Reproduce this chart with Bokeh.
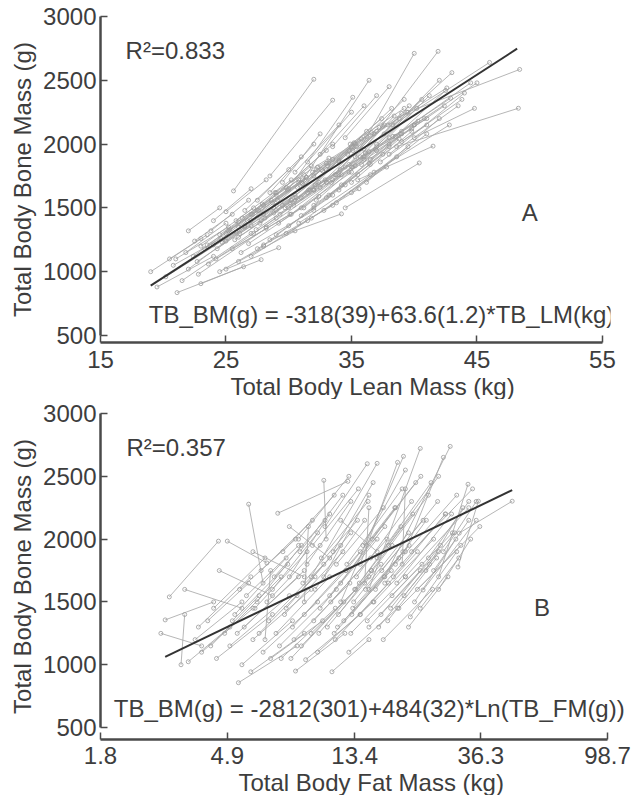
from bokeh.plotting import figure
from bokeh.layouts import column
from bokeh.models import Range1d, FixedTicker, Label, Title, ColumnDataSource
from bokeh.embed import file_html
from bokeh.resources import INLINE
import numpy as np

# ---------------- Panel A: lean mass (kg) vs bone mass (g), paired visits
A_lm1 = [19.0, 19.5, 20.2, 21.1, 20.8, 21.5, 22.0, 22.4, 22.8, 23.0, 23.3, 23.6, 24.0, 24.2, 24.5, 25.0, 25.0, 25.3, 25.6, 25.5,
         25.8, 26.0, 26.2, 26.5, 26.8, 27.0, 27.2, 27.5, 27.8, 28.0, 28.2, 28.5, 28.8, 29.0, 29.2, 29.5, 29.8, 30.0, 30.2, 30.5,
         30.8, 31.0, 31.2, 31.5, 31.8, 32.0, 32.2, 32.5, 32.8, 33.0, 33.2, 33.5, 28.5, 33.8, 34.0, 34.2, 34.5, 34.8, 35.0, 35.3,
         35.5, 35.8, 36.0, 36.2, 36.5, 36.8, 37.0, 37.3, 37.6, 38.0, 38.3, 38.6, 39.0, 39.5, 40.0, 21.8, 22.5, 23.8, 24.5, 26.0,
         27.0, 28.0, 29.0, 30.0, 31.0, 32.0, 33.0, 26.5, 27.5, 28.5, 29.5, 30.5, 31.5, 32.5, 33.5, 34.5, 24.0, 25.0, 22.0, 20.5,
         30.0, 31.0, 32.0, 33.0, 34.0, 35.0, 36.0, 26.0, 27.0, 28.0, 29.0, 25.0, 23.0, 21.0, 37.0, 38.0, 39.0, 40.0, 34.0, 35.0,
         24.3, 25.2, 26.1, 27.1, 28.1, 29.1, 30.1, 31.1, 32.1, 33.1, 34.1, 35.1, 36.1, 25.7, 26.7, 27.7, 28.7, 29.7, 30.7, 31.7,
         32.7, 33.7, 34.7, 35.7, 23.5, 24.7, 27.4, 28.9, 30.4, 31.9, 33.4, 34.9, 36.4, 37.9, 22.7, 26.3, 29.3, 32.3, 35.3, 38.3]
A_bm1 = [1000, 880, 960, 836, 1050, 930, 1020, 1120, 980, 906, 1180, 1060, 1210, 1100, 1290, 1020, 1240, 1330, 1633, 1180,
         1400, 1270, 1150, 1360, 1220, 1450, 1300, 1180, 1400, 1520, 1350, 1250, 1460, 1600, 1380, 1520, 1300, 1650, 1450, 1560,
         1380, 1700, 1500, 1620, 1420, 1750, 1560, 1660, 1480, 1800, 1600, 1720, 1750, 1540, 1860, 1680, 1500, 1780, 1620, 1900,
         1720, 1840, 1960, 1700, 1880, 1780, 2000, 1860, 2080, 1920, 2150, 1980, 2100, 2250, 2050, 1150, 1240, 1320, 1000, 1080,
         1120, 1210, 1290, 1360, 1440, 1520, 1580, 1480, 1560, 1620, 1700, 1780, 1860, 1920, 1980, 2050, 1400, 1470, 1320, 1100,
         1500, 1580, 1640, 1700, 1760, 1820, 1880, 1350, 1400, 1450, 1480, 1300, 1200, 1100, 1950, 2000, 2020, 2150, 1640, 1700,
         1180, 1320, 1300, 1450, 1420, 1560, 1540, 1690, 1680, 1830, 1800, 1950, 1930, 1250, 1400, 1380, 1540, 1500, 1660, 1640,
         1790, 1760, 1920, 1900, 1210, 1230, 1330, 1620, 1520, 1780, 1700, 2000, 1850, 2150, 1080, 1420, 1450, 1820, 1830, 2060]
A_lm2 = [23.5, 24.0, 25.8, 26.4, 24.6, 27.0, 26.5, 26.0, 28.2, 27.8, 27.5, 29.0, 28.6, 30.1, 27.9, 29.2, 30.5, 29.8, 32.0, 31.0,
         30.2, 31.6, 32.0, 31.2, 32.4, 31.8, 33.0, 33.5, 32.6, 33.0, 34.2, 34.2, 34.0, 33.5, 35.0, 35.4, 35.6, 35.1, 36.0, 35.8,
         36.5, 36.4, 37.0, 36.2, 37.8, 37.4, 38.0, 37.5, 38.6, 38.2, 39.0, 38.8, 33.5, 39.5, 39.2, 40.0, 40.4, 40.2, 41.0, 40.0,
         41.5, 41.2, 41.9, 42.0, 42.5, 42.8, 42.0, 43.5, 43.0, 44.0, 46.0, 48.3, 44.5, 48.4, 44.8, 25.0, 25.5, 26.8, 28.0, 30.5,
         31.5, 32.0, 33.5, 34.5, 35.5, 36.5, 37.5, 30.0, 31.0, 32.0, 32.5, 34.0, 35.0, 36.0, 37.0, 38.0, 27.0, 28.2, 24.5, 23.0,
         34.8, 35.2, 36.8, 37.6, 38.4, 39.6, 40.6, 30.8, 31.4, 32.2, 33.2, 29.0, 27.2, 25.2, 41.0, 42.4, 43.8, 45.0, 38.8, 39.8,
         28.8, 29.9, 30.6, 31.4, 32.9, 33.5, 34.8, 35.3, 36.9, 37.2, 38.9, 39.4, 40.8, 30.2, 31.1, 32.4, 33.0, 34.5, 35.0, 36.4,
         37.0, 38.5, 39.0, 40.3, 27.6, 29.0, 32.0, 33.2, 35.1, 36.2, 38.0, 39.2, 41.0, 42.6, 27.0, 30.8, 33.8, 36.6, 39.8, 42.9]
A_bm2 = [1290, 1120, 1310, 1039, 1260, 1300, 1350, 1390, 1340, 1094, 1480, 1420, 1560, 1450, 1530, 1188, 1600, 1660, 2508, 1500,
         1720, 1640, 1480, 1760, 1590, 1830, 1700, 1520, 1800, 1950, 1760, 1453, 1870, 2000, 1780, 1980, 1650, 2367, 1900, 2040,
         1760, 2500, 1980, 2100, 1820, 2200, 2050, 2140, 1900, 2280, 2080, 2200, 2344, 1980, 2350, 2150, 1852, 2280, 2080, 2711,
         1984, 2380, 2727, 2200, 2420, 2150, 2500, 2300, 2560, 2400, 2640, 2281, 2480, 2585, 2280, 1380, 1450, 1560, 1200, 1320,
         1400, 1500, 1600, 1680, 1760, 1840, 1920, 1800, 1900, 2000, 2080, 2150, 2250, 2300, 2380, 2450, 1650, 1720, 1500, 1260,
         1950, 2010, 2080, 2150, 2220, 2300, 2350, 1700, 1740, 1800, 1850, 1620, 1500, 1350, 2200, 2300, 2350, 2480, 2040, 2100,
         1500, 1640, 1580, 1740, 1720, 1880, 1840, 2000, 1960, 2130, 2080, 2250, 2200, 1560, 1720, 1700, 1850, 1820, 1980, 1940,
         2100, 2060, 2240, 2180, 1480, 1520, 1640, 1890, 1820, 2060, 1980, 2280, 2150, 2440, 1360, 1720, 1760, 2090, 2120, 2360]
A_fit_x = [19.0, 48.2]
A_intercept, A_slope = -318.0, 63.6

# ---------------- Panel B: fat mass (kg, log axis) vs bone mass (g)
B_fm1 = [3.1, 4.9, 5.8, 7.3, 10.5, 17.0, 15.0, 12.0, 9.5, 14.0, 20.0, 26.0, 30.6, 30.3, 3.0, 3.4, 3.6, 5.35, 5.9, 9.1,
         11.2, 20.8, 23.0, 3.8, 4.0, 4.2, 4.5, 4.8, 5.0, 5.2, 5.5, 5.6, 6.0, 6.2, 6.5, 6.8, 7.0, 7.2, 7.5, 7.8,
         8.0, 8.2, 8.5, 8.8, 9.0, 9.2, 9.5, 9.8, 10.0, 10.2, 10.5, 10.8, 11.0, 11.3, 11.5, 11.8, 12.0, 12.3, 12.6, 13.0,
         13.3, 13.6, 14.0, 14.3, 14.6, 15.0, 15.3, 15.6, 16.0, 16.5, 17.0, 17.5, 18.0, 18.5, 19.0, 20.0, 21.0, 22.0, 24.0, 25.0,
         4.6, 6.0, 8.0, 3.5, 12.0, 2.9, 6.6, 9.0, 14.5, 19.5, 5.4, 6.4, 7.6, 8.6, 10.6, 4.4, 3.9, 6.9, 8.4, 12.8,
         16.8, 20.5, 22.5, 26.0, 27.0,
         5.1, 5.7, 6.3, 7.1, 7.7, 8.3, 8.9, 9.7, 10.3, 11.1, 11.7, 12.5, 13.2, 13.9, 14.8, 15.8, 16.6, 17.8, 18.7, 19.8,
         6.1, 7.4, 8.7, 10.1, 11.6, 13.1, 14.7, 16.2, 18.2, 21.5, 4.3, 5.3, 6.7, 8.1, 9.6, 11.4, 13.4, 15.4, 17.4, 23.5]
B_bm1 = [1540, 1984, 2278, 2206, 2468, 1700, 1600, 1500, 1700, 1800, 1900, 1700, 2048, 1778, 1357, 1000, 1024, 857, 944, 1040,
         944, 1381, 1595, 1200, 1100, 1350, 1050, 1250, 1150, 1400, 1000, 1300, 1200, 1500, 1100, 1350, 1600, 1250, 1050, 1450,
         1700, 1300, 1550, 1150, 1400, 1800, 1250, 1600, 1100, 1450, 1700, 1300, 1550, 1900, 1200, 1400, 1650, 1350, 1800, 1250,
         1500, 1700, 1400, 1950, 1600, 1300, 1750, 1500, 1850, 1400, 1650, 1950, 1550, 1800, 1450, 1700, 1900, 1600, 1850, 1750,
         1750, 1900, 2100, 1600, 2150, 1250, 1200, 1500, 1650, 1800, 1600, 1750, 1900, 2000, 2100, 1450, 1300, 1050, 950, 1100,
         1200, 1300, 1450, 1600, 1900,
         1350, 1550, 1250, 1700, 1400, 1200, 1650, 1350, 1850, 1500, 1300, 1750, 1450, 1650, 1350, 1600, 1750, 1450, 1650, 1550,
         1450, 1150, 1900, 1250, 1800, 1400, 1950, 1300, 1700, 1500, 1150, 1250, 1500, 1050, 1950, 1250, 1600, 2000, 1350, 1750]
B_fm2 = [4.57, 6.7, 6.5, 12.7, 10.7, 28.5, 22.5, 19.7, 16.0, 18.8, 27.0, 32.8, 46.5, 35.6, 4.4, 3.5, 5.0, 8.5, 9.0, 14.0,
         15.0, 30.0, 35.0, 5.5, 6.0, 5.8, 7.0, 7.5, 8.0, 7.8, 8.2, 9.0, 9.5, 8.8, 10.0, 10.5, 10.0, 11.0, 11.5, 12.0,
         11.0, 12.5, 13.0, 13.5, 14.0, 13.0, 15.0, 14.5, 15.5, 16.0, 15.0, 16.5, 17.0, 15.5, 17.5, 18.0, 18.5, 19.0, 19.5, 20.0,
         20.5, 21.0, 22.0, 20.0, 23.0, 22.5, 24.0, 25.0, 24.5, 26.0, 27.5, 26.0, 29.0, 30.0, 31.0, 33.0, 34.0, 36.0, 33.0, 33.0,
         7.0, 9.0, 11.0, 5.5, 16.0, 4.0, 6.9, 9.3, 15.0, 20.0, 8.4, 9.6, 11.4, 12.8, 14.8, 6.6, 5.9, 10.4, 12.4, 18.8,
         24.8, 28.0, 30.5, 33.5, 35.0,
         7.9, 8.6, 9.8, 10.6, 12.2, 12.9, 13.7, 15.2, 14.9, 17.3, 17.9, 18.4, 20.6, 21.2, 22.8, 23.6, 25.8, 26.4, 28.8, 29.5,
         9.2, 11.6, 12.2, 15.3, 16.8, 19.6, 21.7, 24.2, 27.4, 29.8, 6.3, 8.6, 10.2, 12.3, 13.8, 16.9, 19.3, 22.6, 25.6, 31.5]
B_bm2 = [1984, 1810, 1650, 2460, 2000, 2738, 2722, 2659, 2603, 2611, 2651, 2437, 2302, 2302, 1500, 1400, 1300, 1150, 1250, 1400,
         1200, 1900, 2150, 1500, 1450, 1650, 1400, 1700, 1550, 1850, 1350, 1750, 1600, 1950, 1500, 1800, 2050, 1700, 1450, 1950,
         2200, 1750, 2050, 1600, 1900, 2300, 1700, 2150, 1500, 2000, 2350, 1800, 2100, 2450, 1650, 1950, 2250, 1850, 2400, 1700,
         2050, 2300, 1900, 2550, 2150, 1750, 2350, 2000, 2450, 1900, 2200, 2500, 2050, 2350, 1950, 2250, 2400, 2100, 2300, 2150,
         1550, 1700, 1850, 1450, 1900, 1150, 1750, 2100, 2250, 2400, 2000, 2150, 2350, 2500, 2600, 1850, 1700, 1350, 1250, 1450,
         1600, 1700, 1850, 2000, 2300,
         1800, 1950, 1700, 2150, 1900, 1650, 2150, 1850, 2300, 2000, 1750, 2250, 1950, 2200, 1800, 2150, 2300, 1950, 2200, 2050,
         1900, 1600, 2350, 1750, 2250, 1900, 2450, 1800, 2200, 2000, 1550, 1700, 1950, 1500, 2400, 1700, 2100, 2500, 1850, 2250]
B_fit_x = [3.0, 46.5]
B_intercept, B_slope = -2812.0, 484.0

Y_TICKS = [500, 1000, 1500, 2000, 2500, 3000]
A_X_TICKS = [15, 25, 35, 45, 55]
B_X_TICKS = [1.8, 4.9, 13.4, 36.3, 98.7]

FONT = "Liberation Sans"
TXT = "#3d3d3d"
AX = "#4a4a4a"
SEG = "#a9a9a9"
FS = "24px"


def style(p, xticks, xlabel, xoffset, xstandoff):
    p.xgrid.visible = False
    p.ygrid.visible = False
    p.outline_line_color = None
    p.background_fill_color = "white"
    p.border_fill_color = "white"
    for ax in (p.xaxis[0], p.yaxis[0]):
        ax.axis_line_width = 2.5
        ax.axis_line_color = AX
        ax.major_tick_line_color = AX
        ax.major_tick_line_width = 1.5
        ax.major_tick_in = 7
        ax.major_tick_out = 0
        ax.minor_tick_line_color = None
        ax.major_label_text_font = FONT
        ax.major_label_text_font_size = FS
        ax.major_label_text_color = TXT
    ya = p.yaxis[0]
    ya.ticker = FixedTicker(ticks=Y_TICKS)
    ya.bounds = (500, 3000)
    ya.major_label_standoff = 4
    ya.axis_label = "Total Body Bone Mass (g)"
    ya.axis_label_text_font = FONT
    ya.axis_label_text_font_size = FS
    ya.axis_label_text_font_style = "normal"
    ya.axis_label_text_color = TXT
    ya.axis_label_standoff = 4
    xa = p.xaxis[0]
    xa.ticker = FixedTicker(ticks=xticks)
    xa.bounds = (xticks[0], xticks[-1])
    xa.major_label_standoff = xstandoff
    xa.major_label_overrides = {t: str(t) for t in xticks}
    t = Title(text=xlabel, align="left", offset=xoffset, standoff=0,
              text_font=FONT, text_font_size=FS, text_font_style="normal",
              text_color=TXT)
    p.add_layout(t, "below")


def label(p, x, y, text, align="left"):
    p.add_layout(Label(x=x, y=y, text=text, text_font=FONT, text_font_size=FS,
                       text_color=TXT, text_align=align, text_baseline="middle"))


# ---------- Figure A
pA = figure(frame_width=510, frame_height=326, x_range=Range1d(15, 55.64), y_range=Range1d(445, 3000),
            min_border_left=100, min_border_right=8, min_border_top=16, min_border_bottom=57,
            output_backend="svg", toolbar_location=None)
style(pA, A_X_TICKS, "Total Body Lean Mass (kg)", 130, 8)
srcA = ColumnDataSource(dict(x0=A_lm1, y0=A_bm1, x1=A_lm2, y1=A_bm2))
pA.segment("x0", "y0", "x1", "y1", source=srcA, line_color=SEG, line_width=1, line_alpha=0.85)
pA.scatter(A_lm1 + A_lm2, A_bm1 + A_bm2, marker="circle", size=4, line_color="#9a9a9a",
           fill_alpha=0, line_width=0.8)
fa = np.array(A_fit_x)
pA.line(fa, A_intercept + A_slope * fa, line_color="#333333", line_width=2)
label(pA, 17.0, 2734, "R²=0.833")
label(pA, 49.2, 1464, "A", "center")
label(pA, 18.85, 665, "TB_BM(g) = -318(39)+63.6(1.2)*TB_LM(kg)")

# ---------- Figure B
pB = figure(frame_width=524, frame_height=326, x_axis_type="log", x_range=Range1d(1.8, 112.9),
            y_range=Range1d(405, 3000),
            min_border_left=100, min_border_right=8, min_border_top=14, min_border_bottom=0,
            output_backend="svg", toolbar_location=None)
style(pB, B_X_TICKS, "Total Body Fat Mass (kg)", 138, 7)
srcB = ColumnDataSource(dict(x0=B_fm1, y0=B_bm1, x1=B_fm2, y1=B_bm2))
pB.segment("x0", "y0", "x1", "y1", source=srcB, line_color=SEG, line_width=1, line_alpha=0.85)
pB.scatter(B_fm1 + B_fm2, B_bm1 + B_bm2, marker="circle", size=4, line_color="#9a9a9a",
           fill_alpha=0, line_width=0.8)
fb = np.array(B_fit_x)
pB.line(fb, B_intercept + B_slope * np.log(fb * 1000.0), line_color="#333333", line_width=2)
label(pB, 2.21, 2729, "R²=0.357")
label(pB, 58.8, 1455, "B", "center")
label(pB, 2.0, 651, "TB_BM(g) = -2812(301)+484(32)*Ln(TB_FM(g))")

layout = column(pA, pB, spacing=0)
open("out.html", "w").write(file_html(layout, INLINE))
